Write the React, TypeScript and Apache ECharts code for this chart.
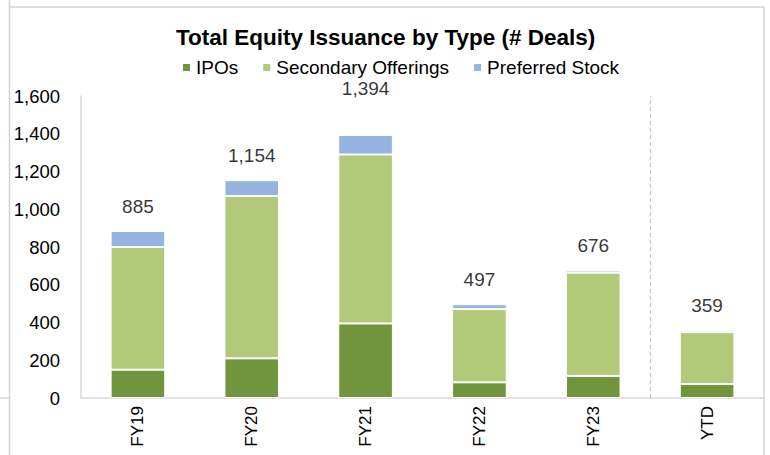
import React, { useEffect, useRef } from "react";
import * as echarts from "echarts";

const categories = ["FY19", "FY20", "FY21", "FY22", "FY23", "YTD"];
const ipos = [150, 210, 395, 83, 117, 74];
const secondary = [650, 860, 895, 388, 547, 275];
const preferred = [85, 84, 104, 26, 12, 10];
const totals = [885, 1154, 1394, 497, 676, 359];
const yTicks = [0, 200, 400, 600, 800, 1000, 1200, 1400, 1600];
const dividerAt = 5; // boundary between FY23 and YTD (in category slots)

const FONT = 'Arial, "Liberation Sans", sans-serif';
const FRAME = "#d4d4d4";

export default function App() {
  const ref = useRef<HTMLDivElement>(null);
  useEffect(() => {
    if (!ref.current) return;
    const chart = echarts.init(ref.current, undefined, { renderer: "svg" });
    const fmt = (v: number) => v.toLocaleString("en-US");
    const barCommon = {
      type: "bar",
      stack: "total",
      barWidth: "48%",
      itemStyle: { borderColor: "#ffffff", borderWidth: 1 },
    };
    chart.setOption({
      animation: false,
      backgroundColor: "#ffffff",
      textStyle: { fontFamily: FONT },
      title: {
        text: "Total Equity Issuance by Type (# Deals)",
        left: 176,
        top: 26,
        padding: 0,
        textStyle: { fontFamily: FONT, fontSize: 22.5, fontWeight: "bold", color: "#000000" },
      },
      legend: {
        left: 181,
        top: 58,
        padding: 0,
        itemWidth: 9,
        itemHeight: 9,
        itemGap: 23,
        icon: "rect",
        textStyle: { fontFamily: FONT, fontSize: 19, lineHeight: 19, color: "#000000", padding: [0, 0, 0, 0] },
        data: ["IPOs", "Secondary Offerings", "Preferred Stock"],
      },
      grid: { left: 81, right: 6, top: 96, bottom: 57, containLabel: false },
      xAxis: [
        {
          type: "category",
          data: categories,
          axisLine: { lineStyle: { color: "#d9d9d9", width: 1.5 } },
          axisTick: { show: false },
          axisLabel: {
            rotate: 90,
            margin: 8,
            fontFamily: FONT,
            fontSize: 17,
            color: "#000000",
          },
          splitLine: { show: false },
        },
        {
          type: "value",
          min: 0,
          max: categories.length,
          show: false,
        },
      ],
      yAxis: {
        type: "value",
        min: yTicks[0],
        max: yTicks[yTicks.length - 1],
        interval: 200,
        axisLine: { show: true, lineStyle: { color: "#d9d9d9", width: 1.5 } },
        axisTick: { show: false },
        splitLine: { show: false },
        axisLabel: {
          margin: 21,
          fontFamily: FONT,
          fontSize: 18.5,
          color: "#000000",
          formatter: (v: number) => fmt(v),
        },
      },
      series: [
        { ...barCommon, name: "IPOs", data: ipos, itemStyle: { ...barCommon.itemStyle, color: "#70953d" } },
        { ...barCommon, name: "Secondary Offerings", data: secondary, itemStyle: { ...barCommon.itemStyle, color: "#b1c979" } },
        { ...barCommon, name: "Preferred Stock", data: preferred, itemStyle: { ...barCommon.itemStyle, color: "#95b4df" } },
        {
          type: "scatter",
          name: "Total",
          symbolSize: 0,
          silent: true,
          data: totals.map((v, i) => ({
            value: v,
            label: i === 2 ? { offset: [0, -22] } : undefined,
          })),
          label: {
            show: true,
            position: "top",
            distance: 15,
            fontFamily: FONT,
            fontSize: 19,
            lineHeight: 19,
            color: "#000000",
            formatter: (p: any) => fmt(p.value),
          },
        },
        {
          type: "scatter",
          name: "divider",
          xAxisIndex: 1,
          symbolSize: 0,
          silent: true,
          data: [[dividerAt, 0]],
          markLine: {
            silent: true,
            symbol: ["none", "none"],
            label: { show: false },
            lineStyle: { color: "#c8c8c8", type: [4, 3], width: 1.2 },
            data: [{ xAxis: dividerAt }],
          },
        },
      ],
      graphic: [
        { type: "line", shape: { x1: 9.5, y1: 0, x2: 9.5, y2: 455 }, style: { stroke: FRAME, lineWidth: 1.5 } },
        { type: "line", shape: { x1: 9.5, y1: 7, x2: 764, y2: 7 }, style: { stroke: FRAME, lineWidth: 1.5 } },
        { type: "line", shape: { x1: 764, y1: 7, x2: 764, y2: 455 }, style: { stroke: FRAME, lineWidth: 1.5 } },
        { type: "line", shape: { x1: 0, y1: 398, x2: 9, y2: 398 }, style: { stroke: FRAME, lineWidth: 1.5 } },
      ],
    });
    return () => chart.dispose();
  }, []);
  return <div ref={ref} style={{ width: 770, height: 455, position: "absolute", left: 0, top: 0 }} />;
}
